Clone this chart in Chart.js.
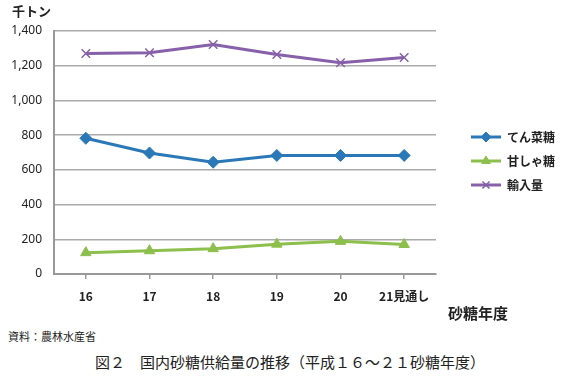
<!DOCTYPE html>
<html><head><meta charset="utf-8">
<script src="https://cdn.jsdelivr.net/npm/chart.js@4/dist/chart.umd.min.js"></script>
<style>
html,body{margin:0;padding:0;background:#fff;}
#wrap{position:relative;width:561px;height:380px;font-family:"Noto Sans CJK JP","Noto Sans",sans-serif;color:#222;}
#c{position:absolute;left:0;top:0;}
.t{position:absolute;white-space:nowrap;line-height:1;}
</style></head><body>
<div id="wrap">
<canvas id="c" width="561" height="320"></canvas>
<div class="t" style="left:12px;top:4px;font-size:13px;font-weight:bold;">千トン</div>
<div class="t" style="left:448px;top:305px;font-size:15px;font-weight:bold;">砂糖年度</div>
<div class="t" style="left:8px;top:331px;font-size:11px;">資料：農林水産省</div>
<div class="t" style="left:95px;top:354px;font-size:15px;">図２　国内砂糖供給量の推移（平成１６～２１砂糖年度）</div>
</div>
<script>
const categories = ["16", "17", "18", "19", "20", "21見通し"];
const seriesNames = ["てん菜糖", "甘しゃ糖", "輸入量"];
const beetSugar = [782, 697, 644, 683, 683, 683];
const caneSugar = [123, 134, 146, 172, 188, 170];
const imports = [1270, 1275, 1322, 1265, 1217, 1247];
const yTicks = [0, 200, 400, 600, 800, 1000, 1200, 1400];

const colors = ["#2a78b7", "#8cbf4c", "#8660a8"];
const styles = ["rectRot", "triangle", "crossRot"];

function makeIcon(color, style) {
  const cv = document.createElement("canvas");
  cv.width = 30; cv.height = 14;
  const ctx = cv.getContext("2d");
  ctx.strokeStyle = color; ctx.lineWidth = 3;
  ctx.beginPath(); ctx.moveTo(0, 7); ctx.lineTo(30, 7); ctx.stroke();
  ctx.fillStyle = color;
  if (Chart.helpers && Chart.helpers.drawPoint) {
    ctx.lineWidth = style === "crossRot" ? 1.5 : 1;
    Chart.helpers.drawPoint(ctx, {pointStyle: style, radius: 5, rotation: 0, borderWidth: ctx.lineWidth}, 15, 7);
  }
  return cv;
}
const icons = colors.map((c, i) => makeIcon(c, styles[i]));

const ds = [beetSugar, caneSugar, imports].map((d, i) => ({
  label: seriesNames[i],
  data: d,
  borderColor: colors[i],
  backgroundColor: colors[i],
  borderWidth: 3,
  pointStyle: styles[i],
  pointRadius: 6,
  pointBorderWidth: i === 2 ? 1.5 : 1,
  pointHoverRadius: 6,
  tension: 0
}));

const legendTweak = {
  id: "legendTweak",
  beforeLayout(chart) {
    const lg = chart.legend;
    if (lg && !lg._tw) {
      const f = lg.fit;
      lg.fit = function () { f.call(this); this.width = 102; };
      lg._tw = true;
    }
  },
  afterLayout(chart) {
    const lg = chart.legend;
    if (lg) { lg.top -= 10; lg.bottom -= 10; }
  }
};

new Chart(document.getElementById("c"), {
  type: "line",
  data: { labels: categories, datasets: ds },
  plugins: [legendTweak],
  options: {
    responsive: false,
    animation: false,
    locale: "en-US",
    layout: { padding: { top: 31, left: 0, right: 0, bottom: 9 } },
    plugins: {
      tooltip: { enabled: false },
      legend: {
        position: "right",
        labels: {
          usePointStyle: true,
          pointStyleWidth: 30,
          boxHeight: 12,
          padding: 12,
          color: "#222",
          font: { family: "'Noto Sans CJK JP', sans-serif", size: 12, weight: "bold" },
          generateLabels(chart) {
            const items = Chart.defaults.plugins.legend.labels.generateLabels(chart);
            items.forEach((it, i) => { it.pointStyle = icons[i]; });
            return items;
          }
        }
      }
    },
    scales: {
      x: {
        type: "category",
        offset: true,
        grid: { display: true, drawOnChartArea: false, drawTicks: true, tickLength: 5, color: "#999", lineWidth: 1.5 },
        border: { display: true, color: "#999", width: 2 },
        ticks: { color: "#222", padding: 10, font: { family: "'Noto Sans CJK JP', sans-serif", size: 12, weight: "bold" }, maxRotation: 0 },
        afterFit(s) { s.height = 37; }
      },
      y: {
        min: 0, max: 1400,
        afterBuildTicks(s) { s.ticks = yTicks.map(v => ({ value: v })); },
        grid: { color: "#aaa", lineWidth: 1.5, drawTicks: false },
        border: { display: true, color: "#999", width: 2 },
        ticks: { color: "#222", padding: 12, font: { family: "'Noto Sans', sans-serif", size: 12 },
          callback: v => v.toLocaleString("en-US") },
        afterFit(s) { s.width = 54; }
      },
      y2: {
        position: "right",
        display: true,
        grid: { display: false, drawTicks: false },
        border: { display: false },
        ticks: { display: false },
        afterFit(s) { s.width = 23; }
      }
    }
  }
});
</script>
</body></html>
